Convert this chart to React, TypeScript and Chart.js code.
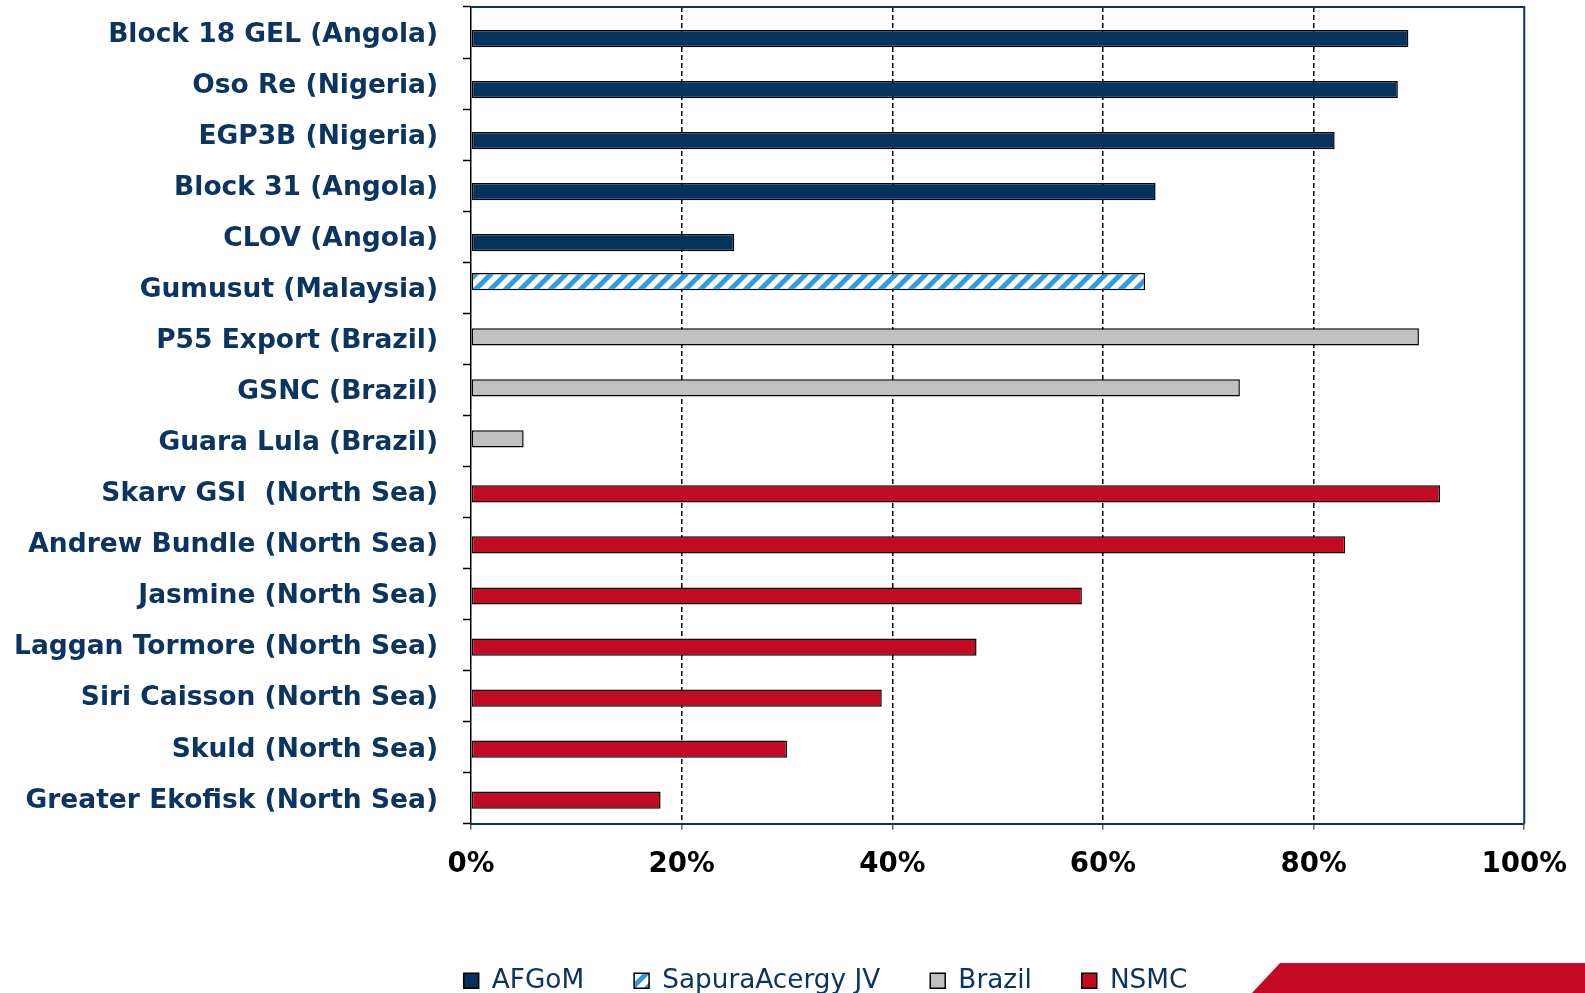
import React, { useEffect, useRef } from "react";
import { Chart, registerables } from "chart.js";

Chart.register(...registerables);

const categories = [
  "Block 18 GEL (Angola)",
  "Oso Re (Nigeria)",
  "EGP3B (Nigeria)",
  "Block 31 (Angola)",
  "CLOV (Angola)",
  "Gumusut (Malaysia)",
  "P55 Export (Brazil)",
  "GSNC (Brazil)",
  "Guara Lula (Brazil)",
  "Skarv GSI  (North Sea)",
  "Andrew Bundle (North Sea)",
  "Jasmine (North Sea)",
  "Laggan Tormore (North Sea)",
  "Siri Caisson (North Sea)",
  "Skuld (North Sea)",
  "Greater Ekofisk (North Sea)",
];

// legend order
const seriesNames = ["AFGoM", "SapuraAcergy JV", "Brazil", "NSMC"];

const afgomValues = [89, 88, 82, 65, 25, null, null, null, null, null, null, null, null, null, null, null];
const sapuraValues = [null, null, null, null, null, 64, null, null, null, null, null, null, null, null, null, null];
const brazilValues = [null, null, null, null, null, null, 90, 73, 5, null, null, null, null, null, null, null];
const nsmcValues = [null, null, null, null, null, null, null, null, null, 92, 83, 58, 48, 39, 30, 18];

const xTicks = [0, 20, 40, 60, 80, 100];

const NAVY = "#0b3560";
const BAR_NAVY = "#06325e";
const GREY = "#c0c0c0";
const RED = "#c30a22";
const HATCH_BLUE = "#2f9be0";

function makeHatch(): CanvasPattern | string {
  const size = 15;
  const c = document.createElement("canvas");
  c.width = size;
  c.height = size;
  const ctx = c.getContext("2d");
  if (!ctx) return HATCH_BLUE;
  ctx.fillStyle = "#ffffff";
  ctx.fillRect(0, 0, size, size);
  ctx.strokeStyle = HATCH_BLUE;
  ctx.lineWidth = 5;
  ctx.lineCap = "square";
  for (const off of [-size, 0, size]) {
    ctx.beginPath();
    ctx.moveTo(off, size);
    ctx.lineTo(off + size, 0);
    ctx.stroke();
  }
  const p = ctx.createPattern(c, "repeat");
  return p || HATCH_BLUE;
}

const framePlugin = {
  id: "frame",
  afterLayout(chart: any) {
    if (chart.legend) {
      chart.legend.left += 33;
      chart.legend.right += 33;
    }
  },
  afterDraw(chart: any) {
    const { ctx, chartArea } = chart;
    ctx.save();
    ctx.strokeStyle = NAVY;
    ctx.lineWidth = 2;
    ctx.beginPath();
    ctx.moveTo(chartArea.left, chartArea.top);
    ctx.lineTo(chartArea.right, chartArea.top);
    ctx.lineTo(chartArea.right, chartArea.bottom);
    ctx.stroke();
    ctx.restore();
  },
};

export default function App() {
  const canvasRef = useRef<HTMLCanvasElement | null>(null);

  useEffect(() => {
    document.body.style.margin = "0";
    document.body.style.overflow = "hidden";
    document.documentElement.style.overflow = "hidden";
    if (!canvasRef.current) return;
    const hatch = makeHatch();
    const common = {
      borderColor: "#000000",
      borderWidth: 1.5,
      borderSkipped: false,
      categoryPercentage: 0.314,
      barPercentage: 4.3,
    };

    const chart = new Chart(canvasRef.current, {
      type: "bar",
      data: {
        labels: categories,
        // dataset order sets each series' slot within a category
        datasets: [
          { label: seriesNames[1], data: sapuraValues, backgroundColor: hatch, ...common },
          { label: seriesNames[2], data: brazilValues, backgroundColor: GREY, ...common },
          { label: seriesNames[3], data: nsmcValues, backgroundColor: RED, ...common },
          { label: seriesNames[0], data: afgomValues, backgroundColor: BAR_NAVY, ...common },
        ] as any,
      },
      options: {
        indexAxis: "y",
        animation: false,
        responsive: true,
        maintainAspectRatio: false,
        layout: { padding: { top: 7, right: 0, left: 0, bottom: -11 } },
        plugins: {
          tooltip: { enabled: false },
          legend: {
            position: "bottom",
            labels: {
              font: { family: "DejaVu Sans", size: 26.3 },
              color: NAVY,
              boxWidth: 15,
              boxHeight: 15,
              padding: 50,
              sort: (a: any, b: any) => seriesNames.indexOf(a.text) - seriesNames.indexOf(b.text),
            },
          },
        },
        scales: {
          y: {
            type: "category",
            offset: true,
            grid: {
              offset: true,
              drawOnChartArea: false,
              tickLength: 8,
              tickColor: "#000000",
              tickWidth: 1.5,
            },
            border: { color: "#000000", width: 1.5 },
            ticks: {
              font: { family: "DejaVu Sans", size: 26.5, weight: "bold" },
              color: NAVY,
              padding: 25,
              labelOffset: 2.5,
              autoSkip: false,
            },
            afterFit(scale: any) {
              scale.width = 471;
              scale.paddingTop = 0;
              scale.paddingBottom = 0;
            },
          },
          yRight: {
            axis: "y",
            type: "linear",
            position: "right",
            display: true,
            grid: { display: false, drawTicks: false },
            border: { display: false },
            ticks: { display: false },
            afterFit(scale: any) {
              scale.width = 53;
              scale.paddingTop = 0;
              scale.paddingBottom = 0;
            },
          },
          x: {
            type: "linear",
            min: 0,
            max: 100,
            afterBuildTicks(scale: any) {
              scale.ticks = xTicks.map((v) => ({ value: v }));
            },
            grid: {
              color: (ctx: any) =>
                ctx.tick && (ctx.tick.value === 0 || ctx.tick.value === 100) ? "rgba(0,0,0,0)" : "#000000",
              lineWidth: 1.5,
              tickLength: 6,
              tickColor: "#666666",
              tickWidth: 1.5,
            },
            border: { color: NAVY, width: 2, dash: [5, 3] },
            ticks: {
              font: { family: "DejaVu Sans", size: 27.7, weight: "bold" },
              color: "#000000",
              padding: 18,
              callback: (v: any) => v + "%",
              maxRotation: 0,
            },
            afterFit(scale: any) {
              scale.height = 94;
            },
          },
        },
      } as any,
      plugins: [framePlugin],
    });
    return () => chart.destroy();
  }, []);

  return (
    <div style={{ position: "relative", width: "100vw", height: "100vh", background: "#ffffff", overflow: "hidden" }}>
      <canvas ref={canvasRef} />
      <div
        style={{
          position: "absolute",
          right: 0,
          bottom: 0,
          width: 333,
          height: 30,
          background: RED,
          clipPath: "polygon(28px 0, 100% 0, 100% 100%, 0 100%)",
        }}
      />
    </div>
  );
}
